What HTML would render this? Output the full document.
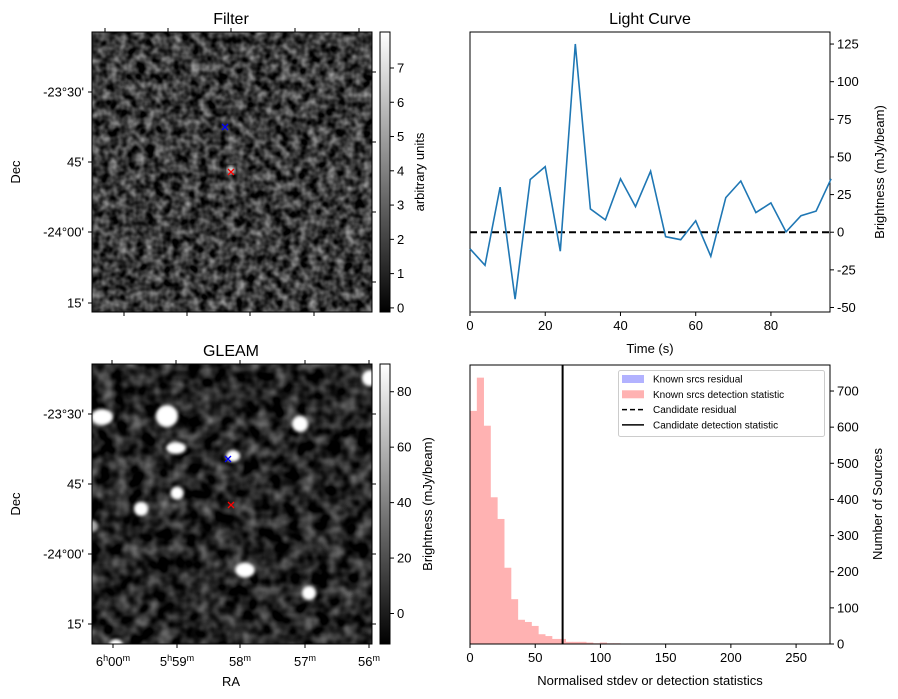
<!DOCTYPE html>
<html><head><meta charset="utf-8"><style>
html,body{margin:0;padding:0;background:#fff}
svg{display:block;font-family:"Liberation Sans","DejaVu Sans",sans-serif}
</style></head><body>
<svg id="root" width="898" height="699" viewBox="0 0 898 699" xmlns="http://www.w3.org/2000/svg">
<defs>
<filter id="noiseF" x="0" y="0" width="100%" height="100%" color-interpolation-filters="sRGB">
<feTurbulence type="fractalNoise" baseFrequency="0.11" numOctaves="2" seed="3" result="t"/>
<feColorMatrix in="t" type="matrix" values="0.95 0 0 0 -0.25  0.95 0 0 0 -0.25  0.95 0 0 0 -0.25  0 0 0 0 1"/>
</filter>
<filter id="noiseG" x="0" y="0" width="100%" height="100%" color-interpolation-filters="sRGB">
<feTurbulence type="fractalNoise" baseFrequency="0.07" numOctaves="2" seed="8" result="t"/>
<feColorMatrix in="t" type="matrix" values="0.8 0 0 0 -0.26  0.8 0 0 0 -0.26  0.8 0 0 0 -0.26  0 0 0 0 1"/>
</filter>
<filter id="blur2" color-interpolation-filters="sRGB"><feGaussianBlur stdDeviation="1.5"/></filter>
<clipPath id="clipG"><rect x="92" y="364" width="280" height="280"/></clipPath>
<clipPath id="clipF"><rect x="92" y="32" width="280" height="280"/></clipPath>
<linearGradient id="gray" x1="0" y1="1" x2="0" y2="0"><stop offset="0" stop-color="#000"/><stop offset="1" stop-color="#fff"/></linearGradient>
</defs>

<g>
<text x="231" y="24" font-size="16" text-anchor="middle">Filter</text>
<rect x="92" y="32" width="280" height="280" fill="#444" filter="url(#noiseF)"/>
<g clip-path="url(#clipF)"><circle cx="231" cy="170" r="4" fill="#ddd" filter="url(#blur2)"/></g>
<rect x="92" y="32" width="280" height="280" fill="none" stroke="#000" stroke-width="1"/>
<g id="filterTicks"></g>
<text transform="translate(20,172) rotate(-90)" font-size="13" text-anchor="middle">Dec</text>
<g stroke="#00f" stroke-width="1.3"><path d="M222 124l6 6M228 124l-6 6"/></g>
<g stroke="#f00" stroke-width="1.3"><path d="M228 169l6 6M234 169l-6 6"/></g>
<rect x="380" y="32" width="10" height="280" fill="url(#gray)" stroke="#000" stroke-width="1"/>
<g id="cbF"></g>
<text transform="translate(424,172) rotate(-90)" font-size="13" text-anchor="middle">arbitrary units</text>
</g>

<g>
<text x="231" y="356" font-size="16" text-anchor="middle">GLEAM</text>
<rect x="92" y="364" width="280" height="280" fill="#222" filter="url(#noiseG)"/>
<g clip-path="url(#clipG)" fill="#fff" filter="url(#blur2)">
<circle cx="167" cy="416" r="11"/>
<ellipse cx="102" cy="417" rx="11" ry="8"/>
<ellipse cx="176" cy="448" rx="10" ry="6"/>
<ellipse cx="233" cy="456" rx="7" ry="6"/>
<circle cx="300" cy="424" r="8"/>
<circle cx="177" cy="493" r="6.5"/>
<circle cx="141" cy="509" r="7"/>
<ellipse cx="245" cy="570" rx="10" ry="7.5"/>
<circle cx="309" cy="593" r="7"/>
<circle cx="370" cy="378" r="8"/>
<circle cx="116" cy="646" r="7"/>
<circle cx="92" cy="526" r="6" fill="#aaa"/>
</g>
<rect x="92" y="364" width="280" height="280" fill="none" stroke="#000" stroke-width="1"/>
<g id="gleamTicks"></g>
<text transform="translate(20,504) rotate(-90)" font-size="13" text-anchor="middle">Dec</text>
<text x="231" y="686" font-size="13" text-anchor="middle">RA</text>
<g stroke="#00f" stroke-width="1.3"><path d="M225 456l6 6M231 456l-6 6"/></g>
<g stroke="#f00" stroke-width="1.3"><path d="M228 502l6 6M234 502l-6 6"/></g>
<rect x="380" y="364" width="10" height="280" fill="url(#gray)" stroke="#000" stroke-width="1"/>
<g id="cbG"></g>
<text transform="translate(432,504) rotate(-90)" font-size="13" text-anchor="middle">Brightness (mJy/beam)</text>
</g>

<g id="lc">
<text x="650" y="24" font-size="16" text-anchor="middle">Light Curve</text>
<text x="650" y="353" font-size="13" text-anchor="middle">Time (s)</text>
<text transform="translate(884,172) rotate(-90)" font-size="13" text-anchor="middle">Brightness (mJy/beam)</text>
</g>

<g id="hist">
<text x="650" y="685" font-size="13" text-anchor="middle">Normalised stdev or detection statistics</text>
<text transform="translate(882,504) rotate(-90)" font-size="13" text-anchor="middle">Number of Sources</text>
</g>
</svg>
<script>
const lcTimes=[0,4,8,12,16,20,24,28,32,36,40,44,48,52,56,60,64,68,72,76,80,84,88,92,96];
const lcValues=[-11,-22,30,-44.5,35,43.5,-12.6,125,15.5,8.2,35.5,17,40.5,-3,-5,7.6,-16,23,34,13,19.5,0.2,11,14,35.5];
const lcXTicks=[0,20,40,60,80];
const lcYTicks=[-50,-25,0,25,50,75,100,125];
const histCounts=[645,737,604,406,346,211,124,67,61,50,27,22,14,14,6,6,6,4,2,4,2,2,1,0,1,1,1,1,0,0,1,0,1,0,1,0,0,0,0,0,0,0,0,0,1,0,0,0,0,1];
const histBinStart=0;
const histBinWidth=5.24;
const candidateStat=71;
const histXTicks=[0,50,100,150,200,250];
const histYTicks=[0,100,200,300,400,500,600,700];
const cbFTicks=[0,1,2,3,4,5,6,7];
const cbGTicks=[0,20,40,60,80];
const NS='http://www.w3.org/2000/svg';
function mk(tag,attrs,parent,txt){const e=document.createElementNS(NS,tag);for(const k in attrs)e.setAttribute(k,attrs[k]);if(txt!==undefined)e.textContent=txt;parent.appendChild(e);return e;}
const lc=document.getElementById('lc');
const L={x0:470,x1:830,y0:32,y1:312};
const lx=v=>L.x0+(v-0)/(95.7-0)*(L.x1-L.x0);
const ly=v=>L.y1-(v-(-53))/(133-(-53))*(L.y1-L.y0);
const lcAxes=mk('rect',{x:L.x0,y:L.y0,width:L.x1-L.x0,height:L.y1-L.y0,fill:'none',stroke:'#000','stroke-width':1},lc);


lcXTicks.forEach(t=>{mk('line',{x1:lx(t),x2:lx(t),y1:L.y1,y2:L.y1+4,stroke:'#000'},lc);
 const tx=mk('text',{x:lx(t),y:L.y1+18,'font-size':13,'text-anchor':'middle'},lc,String(t));
 
 });
lcYTicks.forEach(t=>{mk('line',{x1:L.x1,x2:L.x1+4,y1:ly(t),y2:ly(t),stroke:'#000'},lc);
 const tx=mk('text',{x:L.x1+7,y:ly(t)+4.5,'font-size':13},lc,String(t));
 
 });
const zl=mk('line',{x1:L.x0,x2:L.x1,y1:ly(0),y2:ly(0),stroke:'#000','stroke-width':2,'stroke-dasharray':'7,4'},lc);


const pts=lcTimes.map((t,i)=>lx(t).toFixed(1)+','+ly(lcValues[i]).toFixed(1)).join(' ');
const pl=mk('polyline',{points:pts,fill:'none',stroke:'#1f77b4','stroke-width':1.6},lc);


const h=document.getElementById('hist');
const H={x0:470,x1:830,y0:365,y1:644};
const hx=v=>H.x0+v/276*(H.x1-H.x0);
const hy=v=>H.y1-v/772*(H.y1-H.y0);
histCounts.forEach((c,i)=>{if(!c)return;const a=histBinStart+i*histBinWidth,b=a+histBinWidth;
 const r=mk('rect',{x:hx(a),y:hy(c),width:hx(b)-hx(a)+0.3,height:H.y1-hy(c),fill:'#ffb2b2'},h);
 
 });
const cl=mk('line',{x1:hx(candidateStat),x2:hx(candidateStat),y1:H.y0,y2:H.y1,stroke:'#000','stroke-width':2},h);


const hAxes=mk('rect',{x:H.x0,y:H.y0,width:H.x1-H.x0,height:H.y1-H.y0,fill:'none',stroke:'#000','stroke-width':1},h);


histXTicks.forEach(t=>{mk('line',{x1:hx(t),x2:hx(t),y1:H.y1,y2:H.y1+4,stroke:'#000'},h);
 const tx=mk('text',{x:hx(t),y:H.y1+18,'font-size':13,'text-anchor':'middle'},h,String(t));
 
 });
histYTicks.forEach(t=>{mk('line',{x1:H.x1,x2:H.x1+4,y1:hy(t),y2:hy(t),stroke:'#000'},h);
 const tx=mk('text',{x:H.x1+7,y:hy(t)+4.5,'font-size':13},h,String(t));
 
 });
const lg=mk('g',{},h);


mk('rect',{x:618.5,y:370.5,width:206,height:66,rx:2,fill:'#fff','fill-opacity':0.8,stroke:'#ccc'},lg);
const legItems=[['Known srcs residual','#b2b2ff','box'],['Known srcs detection statistic','#ffb2b2','box'],['Candidate residual','#000','dash'],['Candidate detection statistic','#000','line']];
legItems.forEach((it,i)=>{const y=379+i*15.3;
 if(it[2]==='box')mk('rect',{x:622,y:y-4,width:22,height:8,fill:it[1]},lg);
 else mk('line',{x1:622,x2:644,y1:y,y2:y,stroke:'#000','stroke-width':1.5,'stroke-dasharray':it[2]==='dash'?'5,3':'none'},lg);
 const tx=mk('text',{x:653,y:y+3.5,'font-size':10},lg,it[0]);
 
 });
function cb(id,ticks,vmin,vmax,y0,y1){const g=document.getElementById(id);
 ticks.forEach(t=>{const y=y1-(t-vmin)/(vmax-vmin)*(y1-y0);
 mk('line',{x1:390,x2:394,y1:y,y2:y,stroke:'#000'},g);
 const tx=mk('text',{x:397,y:y+4.5,'font-size':13},g,String(t));
 
 });}
cb('cbF',cbFTicks,-0.12,8.05,32,312);
cb('cbG',cbGTicks,-11,90,364,644);
function imgTicks(id,y0,decY,rightY,topX,botX,labels){const g=document.getElementById(id);const y1=y0+280;
 const decL=["-23°30'","45'","-24°00'","15'"];
 decY.forEach((y,i)=>{mk('line',{x1:88,x2:92,y1:y,y2:y,stroke:'#000'},g);
  const tx=mk('text',{x:84,y:y+4.5,'font-size':13,'text-anchor':'end'},g,decL[i]);
  
  });
 rightY.forEach(y=>mk('line',{x1:372,x2:376,y1:y,y2:y,stroke:'#000'},g));
 topX.forEach(x=>mk('line',{x1:x,x2:x,y1:y0-4,y2:y0,stroke:'#000'},g));
 botX.forEach(x=>mk('line',{x1:x,x2:x,y1:y1,y2:y1+4,stroke:'#000'},g));
 if(labels){const ra=[['6','00'],['5','59'],['','58'],['','57'],['','56']];
  botX.forEach((x,i)=>{const t=mk('text',{x:x,y:y1+22,'font-size':13,'text-anchor':'middle'},g);
  
  
  if(ra[i][0]){mk('tspan',{},t,ra[i][0]);mk('tspan',{'font-size':9,dy:-5},t,'h');mk('tspan',{dy:5},t,ra[i][1]);}
  else mk('tspan',{},t,ra[i][1]);
  mk('tspan',{'font-size':9,dy:-5},t,'m');});}}
imgTicks('filterTicks',32,[92,162,232,303],[72,142,212,282],[105,168,231,295,359],[124,187,250,314],false);
imgTicks('gleamTicks',364,[414,484,554,624],[414,484,554,624],[112,176,240,305,369],[113,177,240,305,369],true);
</script>
</body></html>
